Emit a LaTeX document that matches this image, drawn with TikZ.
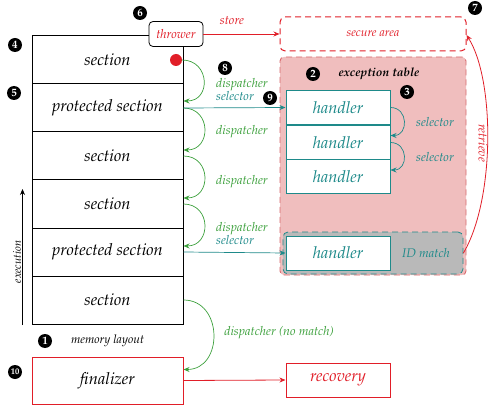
\documentclass[tikz,border=0pt]{standalone}
\usepackage[T1]{fontenc}
\usepackage{mathpazo}
\usetikzlibrary{arrows.meta,calc}
\definecolor{tealc}{RGB}{30,138,138}
\definecolor{greenc}{RGB}{60,160,60}
\definecolor{redc}{RGB}{225,30,40}
\definecolor{pinkc}{RGB}{240,190,190}
\definecolor{pinkedge}{RGB}{215,105,110}
\definecolor{grayc}{RGB}{185,185,185}
\tikzset{
  big/.style={font=\fontsize{16.5}{18}\selectfont\itshape},
  small/.style={font=\fontsize{12.5}{14}\selectfont\itshape},
  sect/.style={draw=black, line width=1pt, minimum width=151pt, minimum height=48pt, inner sep=0pt, big},
  hand/.style={draw=tealc, fill=white, line width=1pt, minimum width=104pt, minimum height=34pt, inner sep=0pt, text=tealc, big},
  num/.style={circle, fill=black, text=white, inner sep=0pt, minimum size=14pt, font=\fontsize{11}{11}\selectfont\bfseries},
  disp/.style={draw=greenc, line width=0.7pt, -{Stealth[length=6pt,width=5pt]}},
  sel/.style={draw=tealc, line width=0.7pt, -{Stealth[length=6pt,width=5pt]}},
  redarrow/.style={draw=redc, line width=0.8pt, -{Stealth[length=6pt,width=5pt]}},
  glabel/.style={small, text=greenc, inner sep=0pt},
  tlabel/.style={small, text=tealc, inner sep=0pt},
  rlabel/.style={small, text=redc, inner sep=0pt},
}
\begin{document}
\begin{tikzpicture}[x=1pt,y=-1pt]
\useasboundingbox (0,0) rectangle (495,406);

% exception table and secure area
\node[draw=pinkedge, fill=pinkc, dashed, dash pattern=on 6pt off 4pt, line width=0.9pt,
      rounded corners=4pt, minimum width=186pt, minimum height=218pt, inner sep=0pt] (table) at (373,166) {};
\node[draw=redc, dashed, dash pattern=on 6pt off 4pt, line width=1pt,
      rounded corners=5pt, minimum width=186pt, minimum height=34pt, inner sep=0pt] (secure) at (373,34) {};
\node[rlabel, font=\fontsize{12}{13}\selectfont\itshape] at (secure.center) {secure area};
\node[font=\fontsize{12}{13}\selectfont\bfseries\itshape, inner sep=0pt] (tabletitle) at (379,74) {exception table};

% memory layout
\node[sect] (s1) at (107.5,60) {section};
\node[sect] (s2) at (107.5,108) {protected section};
\node[sect] (s3) at (107.5,156) {section};
\node[sect] (s4) at (107.5,204) {section};
\node[sect] (s5) at (107.5,252) {protected section};
\node[sect] (s6) at (107.5,300) {section};
\node[font=\fontsize{12}{13}\selectfont\itshape, inner sep=0pt] (memlabel) at (107.5,341) {memory layout};

% thrower
\node[draw=black, fill=white, line width=0.8pt, rounded corners=4pt, minimum width=54pt,
      minimum height=25pt, inner sep=0pt, rlabel] (thrower) at (176,34) {thrower};
\fill[redc] (176,60) circle (6pt);
\coordinate (dot) at (182,60);

% handlers
\node[hand] (h1) at (338,107.5) {handler};
\node[hand] (h2) at (338,142.5) {handler};
\node[hand] (h3) at (338,177) {handler};
\node[draw=tealc, fill=grayc, dashed, dash pattern=on 6pt off 4pt, line width=0.8pt,
      rounded corners=5pt, minimum width=180pt, minimum height=42pt, inner sep=0pt] (idgroup) at (373,253) {};
\node[hand] (h4) at (338,253) {handler};
\node[tlabel] (idmatch) at (426,253) {ID match};

% finalizer and recovery
\node[draw=redc, line width=1pt, minimum width=151pt, minimum height=47pt, inner sep=0pt, big] (fin) at (107.5,380.5) {finalizer};
\node[draw=redc, line width=1pt, minimum width=104pt, minimum height=34pt, inner sep=0pt, big, text=redc] (rec) at (338,380) {recovery};

% dispatcher chain
\draw[disp] (dot) .. controls +(28,0) and +(28,0) .. ($(s2.east)+(0,-7)$);
\draw[disp] (s2.east) .. controls +(28,0) and +(28,0) .. ($(s3.east)+(0,-6)$);
\draw[disp] (s3.east) .. controls +(28,0) and +(28,0) .. ($(s4.east)+(0,-6)$);
\draw[disp] (s4.east) .. controls +(28,0) and +(28,0) .. ($(s5.east)+(0,-6)$);
\draw[disp] (s6.east) .. controls +(40,0) and +(40,0) .. ($(fin.east)+(0,-11)$);
\node[glabel] at (242,85) {dispatcher};
\node[tlabel] at (235,96) {selector};
\node[glabel] at (242,132) {dispatcher};
\node[glabel] at (242,182) {dispatcher};
\node[glabel] at (242,229) {dispatcher};
\node[tlabel] at (235,240) {selector};
\node[glabel] at (279,333) {dispatcher (no match)};

% protected sections to handlers
\draw[sel] (s2.east) -- (h1.west);
\draw[sel] (s5.east) -- (h4.west);

% selectors inside the table
\draw[sel] (h1.east) .. controls +(18,0) and +(18,0) .. ($(h2.east)+(0,-7)$);
\draw[sel] (h2.east) .. controls +(18,0) and +(18,0) .. ($(h3.east)+(0,-7)$);
\node[tlabel] at (435,122) {selector};
\node[tlabel] at (435,157) {selector};

% thrower, store, retrieve, recovery
\draw[redarrow] (thrower.east) -- (secure.west);
\node[rlabel] at (232,21) {store};
\draw[redarrow] (idgroup.east) .. controls (495,200) and (495,80) .. ($(secure.east)+(0,1)$);
\node[rlabel, rotate=-90] at (483,143) {retrieve};
\draw[redarrow] (fin.east) -- (rec.west);

% execution direction
\coordinate (exA) at (22.5,325);
\coordinate (exB) at (22.5,189);
\draw[line width=0.7pt, -{Stealth[length=6pt,width=5pt]}] (exA) -- (exB);
\node[font=\fontsize{11}{12}\selectfont\itshape, rotate=90, inner sep=0pt] at (17,262) {execution};

% numbered markers
\node[num] (n1) at (45,341) {1};
\node[num] (n2) at (313,74) {2};
\node[num] (n3) at (407,92) {3};
\node[num] (n4) at (15,45) {4};
\node[num] (n5) at (14,93) {5};
\node[num] (n6) at (140,13) {6};
\node[num] (n7) at (475,8) {7};
\node[num] (n8) at (225,68) {8};
\node[num] (n9) at (270,98) {9};
\node[num, font=\fontsize{8.5}{8.5}\selectfont\bfseries] (n10) at (15,372) {10};
\end{tikzpicture}
\end{document}
